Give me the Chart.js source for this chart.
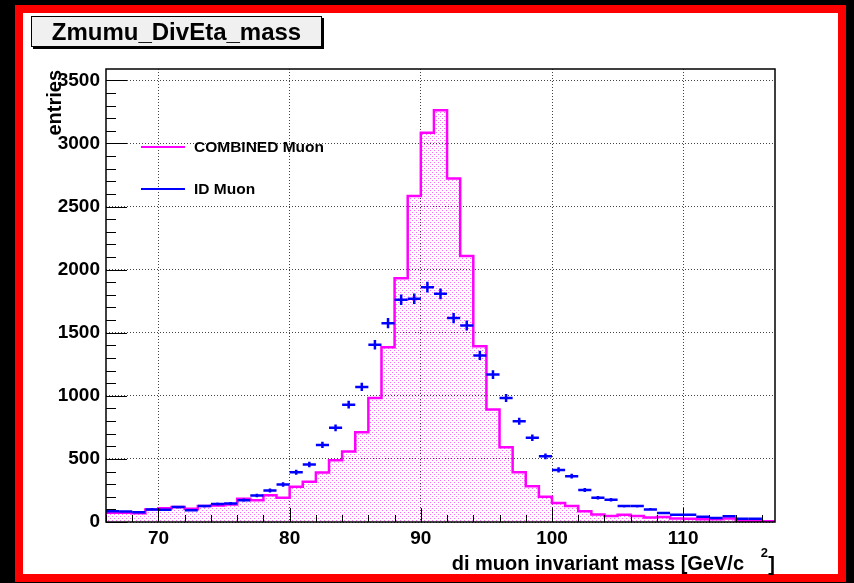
<!DOCTYPE html>
<html lang="en">
<head>
<meta charset="UTF-8">
<title>Zmumu_DivEta_mass</title>
<script src="https://cdn.jsdelivr.net/npm/chart.js"></script>
<style>
  body { margin: 0; background: #000; width: 854px; height: 583px; overflow: hidden; position: relative; }
  #frame { position: absolute; left: 15px; top: 5px; width: 831px; height: 577px; box-sizing: border-box;
           border: 8px solid #ff0000; background: #fff; }
  #title { position: absolute; left: 31px; top: 16px; width: 289px; height: 29px; background: #f0f0f0;
           border: 1px solid #000; box-shadow: 2px 2px 0 #000; font: bold 24px "Liberation Sans", Arial, sans-serif;
           text-align: center; line-height: 29px; color: #000; z-index: 2; }
  #c { position: absolute; left: 0; top: 0; }
</style>
</head>
<body>
<div id="frame"></div>
<canvas id="c" width="854" height="583"></canvas>
<div id="title">Zmumu_DivEta_mass</div>
<script>
// lower edge of each 1 GeV bin
const binLow = [66, 67, 68, 69, 70, 71, 72, 73, 74, 75, 76, 77, 78, 79, 80, 81, 82,
                83, 84, 85, 86, 87, 88, 89, 90, 91, 92, 93, 94, 95, 96, 97, 98, 99,
                100, 101, 102, 103, 104, 105, 106, 107, 108, 109, 110, 111, 112, 113, 114, 115, 116];
const binWidth = 1;

const combinedMuon = [73, 73, 70, 100, 108, 118, 105, 126, 131, 139, 184, 173, 212, 193, 279, 319, 392,
                      490, 558, 711, 983, 1384, 1932, 2583, 3084, 3264, 2723, 2109, 1392, 891, 593, 395, 284, 200,
                      150, 126, 86, 60, 47, 58, 47, 36, 40, 28, 26, 21, 21, 28, 10, 10, 5];

const idMuon = [86, 84, 78, 100, 97, 118, 94, 126, 142, 147, 173, 210, 250, 297, 395, 456, 611,
                746, 930, 1070, 1405, 1576, 1761, 1769, 1861, 1808, 1616, 1558, 1320, 1168, 983, 798, 667, 521,
                413, 363, 253, 192, 176, 126, 126, 100, 71, 58, 58, 42, 32, 45, 26, 26, 0];

const xTickValues = [70, 80, 90, 100, 110];
const yTickValues = [0, 500, 1000, 1500, 2000, 2500, 3000, 3500];

const FONT = '"Liberation Sans", Arial, sans-serif';

// sparse magenta dots like ROOT fill style
function dotPattern() {
  const p = document.createElement('canvas');
  p.width = 4; p.height = 4;
  const g = p.getContext('2d');
  g.fillStyle = 'rgba(255,0,255,0.6)';
  g.fillRect(0, 0, 1, 1);
  g.fillRect(2, 2, 1, 1);
  return g.createPattern(p, 'repeat');
}

const combinedPts = binLow.map((x, i) => ({ x: x, y: combinedMuon[i] }));
combinedPts.push({ x: binLow[binLow.length - 1] + binWidth, y: combinedMuon[combinedMuon.length - 1] });
const idPts = binLow.map((x, i) => ({ x: x + binWidth / 2, y: idMuon[i] }));

const rootStyle = {
  id: 'rootStyle',
  afterDatasetsDraw(chart) {
    const { ctx, chartArea: a, scales: { x, y } } = chart;
    ctx.save();
    ctx.beginPath();
    ctx.rect(a.left, a.top, a.right - a.left, a.bottom - a.top);
    ctx.clip();
    ctx.strokeStyle = '#0000ff';
    ctx.lineWidth = 2.5;
    chart.data.datasets[1].data.forEach(p => {
      if (!p.y) return;
      const err = Math.sqrt(p.y);
      const px = x.getPixelForValue(p.x), py = y.getPixelForValue(p.y);
      ctx.beginPath();
      ctx.moveTo(x.getPixelForValue(p.x - binWidth / 2), py);
      ctx.lineTo(x.getPixelForValue(p.x + binWidth / 2), py);
      ctx.moveTo(px, y.getPixelForValue(p.y - err));
      ctx.lineTo(px, y.getPixelForValue(p.y + err));
      ctx.stroke();
    });
    ctx.restore();
  },
  afterDraw(chart) {
    const { ctx, chartArea: a, scales: { x, y } } = chart;
    ctx.save();
    // frame
    ctx.strokeStyle = '#000';
    ctx.lineWidth = 1.5;
    ctx.strokeRect(a.left, a.top, a.right - a.left, a.bottom - a.top);
    ctx.lineWidth = 1;
    // y ticks (major + minor every 100)
    ctx.beginPath();
    for (let v = 0; v <= y.max; v += 100) {
      const py = Math.round(y.getPixelForValue(v)) + 0.5;
      const len = yTickValues.includes(v) ? 21 : 10;
      ctx.moveTo(a.left, py);
      ctx.lineTo(a.left + len, py);
    }
    // x ticks (major + minor every 2)
    for (let v = 66; v <= x.max; v += 2) {
      const px = Math.round(x.getPixelForValue(v)) + 0.5;
      const len = xTickValues.includes(v) ? 14 : 7;
      ctx.moveTo(px, a.bottom);
      ctx.lineTo(px, a.bottom - len);
    }
    ctx.stroke();

    // axis titles
    ctx.fillStyle = '#000';
    ctx.font = 'bold 20px ' + FONT;
    ctx.textBaseline = 'alphabetic';
    ctx.textAlign = 'right';
    ctx.fillText('di muon invariant mass [GeV/c', 744, 570);
    ctx.fillText(']', a.right, 571);
    ctx.font = 'bold 13px ' + FONT;
    ctx.fillText('2', 768, 557);

    ctx.save();
    ctx.font = 'bold 20px ' + FONT;
    ctx.translate(61, 70);
    ctx.rotate(-Math.PI / 2);
    ctx.textAlign = 'right';
    ctx.fillText('entries', 0, 0);
    ctx.restore();

    // legend
    const items = [['COMBINED Muon', '#ff00ff', 147], ['ID Muon', '#0000ff', 189]];
    ctx.font = 'bold 15.5px ' + FONT;
    ctx.textAlign = 'left';
    ctx.textBaseline = 'middle';
    items.forEach(([label, col, ly]) => {
      ctx.strokeStyle = col;
      ctx.lineWidth = 2;
      ctx.beginPath();
      ctx.moveTo(141, ly);
      ctx.lineTo(185, ly);
      ctx.stroke();
      ctx.fillStyle = '#000';
      ctx.fillText(label, 194, ly + 1);
    });
    ctx.restore();
  }
};

const ctx = document.getElementById('c').getContext('2d');
new Chart(ctx, {
  type: 'scatter',
  data: {
    datasets: [
      {
        label: 'COMBINED Muon',
        data: combinedPts,
        showLine: true,
        stepped: 'before',
        pointRadius: 0,
        borderColor: '#ff00ff',
        borderWidth: 2.5,
        backgroundColor: dotPattern(),
        fill: 'origin'
      },
      {
        label: 'ID Muon',
        data: idPts,
        showLine: false,
        pointRadius: 0,
        borderColor: '#0000ff'
      }
    ]
  },
  options: {
    responsive: false,
    animation: false,
    devicePixelRatio: 1,
    layout: { padding: { left: 0, top: 69, right: 79, bottom: 0 } },
    plugins: { legend: { display: false }, tooltip: { enabled: false } },
    scales: {
      x: {
        type: 'linear',
        min: 66,
        max: 117,
        afterBuildTicks: s => { s.ticks = xTickValues.map(v => ({ value: v })); },
        afterFit: s => { s.height = 61; },
        ticks: { color: '#000', font: { family: FONT, size: 19, weight: 'bold' }, padding: 5, maxRotation: 0,
                 callback: v => String(v) },
        grid: { color: '#444', drawTicks: false, lineWidth: 1 },
        border: { display: false, dash: [1, 2] }
      },
      y: {
        min: 0,
        max: 3590,
        afterBuildTicks: s => { s.ticks = yTickValues.map(v => ({ value: v })); },
        afterFit: s => { s.width = 106; },
        ticks: { color: '#000', font: { family: FONT, size: 19, weight: 'bold' }, padding: 6,
                 callback: v => String(v) },
        grid: { color: '#444', drawTicks: false, lineWidth: 1 },
        border: { display: false, dash: [1, 2] }
      }
    }
  },
  plugins: [rootStyle]
});
</script>
</body>
</html>
